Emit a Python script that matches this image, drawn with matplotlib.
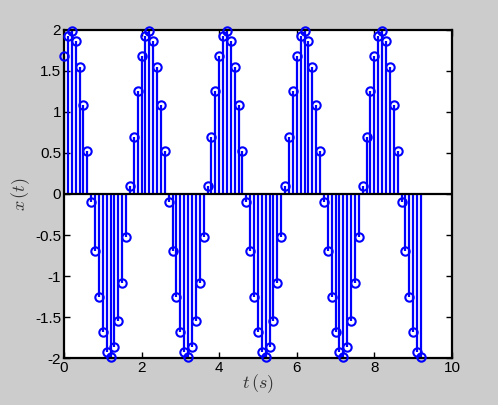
import matplotlib
matplotlib.use("Agg")
import matplotlib.pyplot as plt
import numpy as np

plt.rcParams['font.family'] = ['Liberation Sans', 'DejaVu Sans']
plt.rcParams['mathtext.fontset'] = 'cm'

# sample times (s), 0.1 s grid
t_step = 0.1
n_samples = 93
t = [round(i * t_step, 1) for i in range(n_samples)]

x = [
    1.68, 1.93, 1.99, 1.86, 1.55, 1.09, 0.52, -0.10, -0.70, -1.25,
    -1.68, -1.93, -1.99, -1.86, -1.55, -1.09, -0.52, 0.10, 0.70, 1.25,
    1.68, 1.93, 1.99, 1.86, 1.55, 1.09, 0.52, -0.10, -0.70, -1.25,
    -1.68, -1.93, -1.99, -1.86, -1.55, -1.09, -0.52, 0.10, 0.70, 1.25,
    1.68, 1.93, 1.99, 1.86, 1.55, 1.09, 0.52, -0.10, -0.70, -1.25,
    -1.68, -1.93, -1.99, -1.86, -1.55, -1.09, -0.52, 0.10, 0.70, 1.25,
    1.68, 1.93, 1.99, 1.86, 1.55, 1.09, 0.52, -0.10, -0.70, -1.25,
    -1.68, -1.93, -1.99, -1.86, -1.55, -1.09, -0.52, 0.10, 0.70, 1.25,
    1.68, 1.93, 1.99, 1.86, 1.55, 1.09, 0.52, -0.10, -0.70, -1.25,
    -1.68, -1.93, -1.99,
]

x_ticks = [0, 2, 4, 6, 8, 10]
x_ticklabels = ['0', '2', '4', '6', '8', '10']
y_ticks = [-2, -1.5, -1, -0.5, 0, 0.5, 1, 1.5, 2]
y_ticklabels = ['-2', '-1.5', '-1', '-0.5', '0', '0.5', '1', '1.5', '2']

fig = plt.figure(figsize=(4.98, 4.05), dpi=100)
fig.patch.set_facecolor('#cccccc')
ax = fig.add_axes([0.1285, 0.116, 0.779, 0.81])
ax.set_facecolor('white')

markerline, stemlines, baseline = ax.stem(t, x, linefmt='b-', markerfmt='bo', basefmt=' ')
plt.setp(stemlines, color=(0, 0, 1), linewidth=1.6)
plt.setp(markerline, color=(0, 0, 1), markerfacecolor='none', markersize=6,
         markeredgewidth=1.5, clip_on=False, zorder=6)
ax.axhline(0, color='black', linewidth=1.6, zorder=3)

ax.set_xlim(0, 10)
ax.set_ylim(-2, 2)
ax.set_xticks(x_ticks)
ax.set_xticklabels(x_ticklabels)
ax.set_yticks(y_ticks)
ax.set_yticklabels(y_ticklabels)
ax.tick_params(direction='in', length=4, width=1, top=True, right=True,
               labelsize=11, pad=2, colors='black')
for s in ax.spines.values():
    s.set_linewidth(1.6)
    s.set_zorder(5)

ax.set_xlabel(r'$t\,(s)$', fontsize=13, labelpad=-2, color='#333333')
ax.set_ylabel(r'$x\,(t)$', fontsize=13, labelpad=2, color='#333333')

fig.savefig('out.png', dpi=100, facecolor=fig.get_facecolor())
